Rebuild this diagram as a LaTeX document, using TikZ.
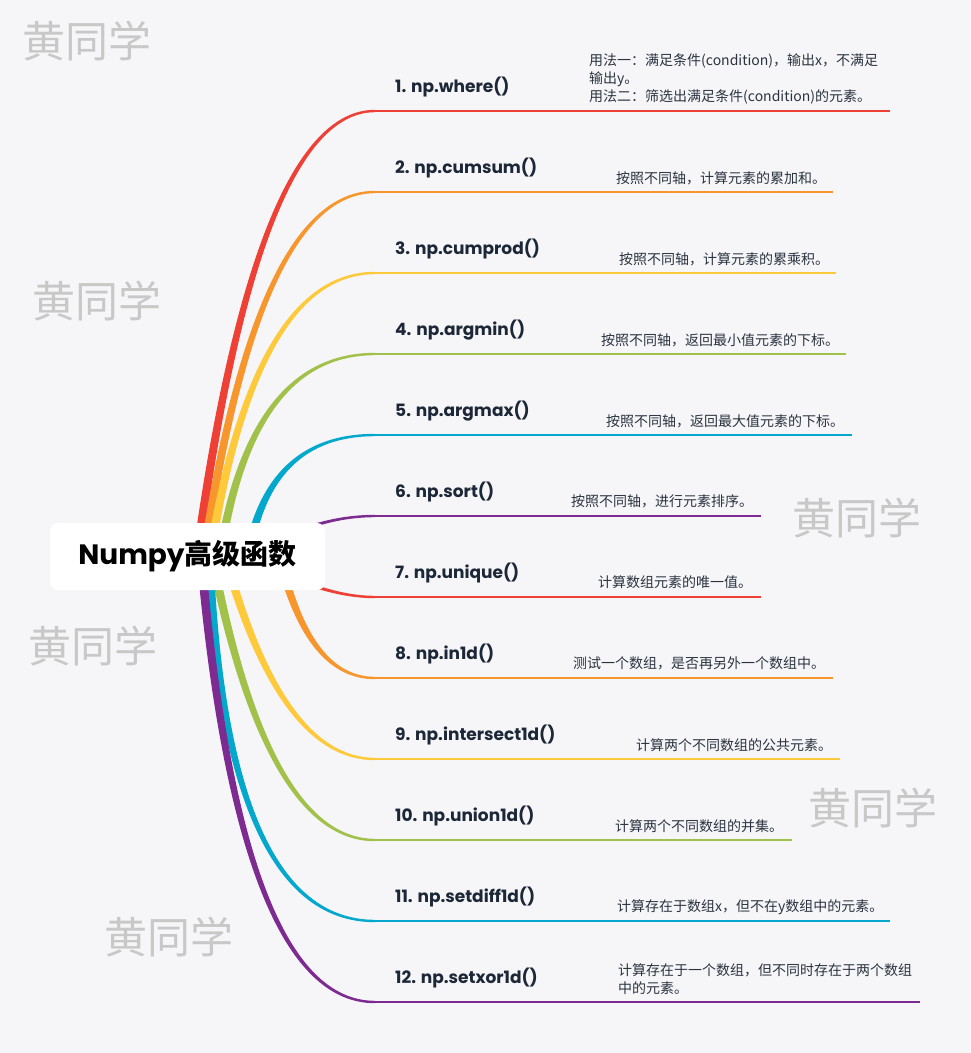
\documentclass[tikz,border=0pt]{standalone}
\usepackage{fontspec}
\setmainfont{Poppins}
\newfontfamily\popfont{Poppins}
\newfontfamily\cjkfont{Noto Sans CJK SC}
\definecolor{bgc}{HTML}{F6F6F8}
\definecolor{cred}{HTML}{EE4035}
\definecolor{corange}{HTML}{F7962D}
\definecolor{cyellow}{HTML}{FFC93C}
\definecolor{cgreen}{HTML}{A2C14A}
\definecolor{cblue}{HTML}{04A8CD}
\definecolor{cpurple}{HTML}{7D2A91}
\definecolor{lbltxt}{HTML}{1C2738}
\definecolor{desctxt}{HTML}{2B3340}
\definecolor{wmc}{HTML}{C8C8C8}
\newcommand\mmbranch[6]{%
  % #1 colour, #2 start x, #3 control x, #4 end y, #5 side sign, #6 underline end x
  \pgfmathsetmacro\mmyL{#4-#5*1.2}%
  \pgfmathsetmacro\mmyR{#4+#5*1.2}%
  \pgfmathsetmacro\mmxL{#2-4.5}%
  \pgfmathsetmacro\mmxR{#2+4.5}%
  \pgfmathsetmacro\mmqL{#3-2.5}%
  \pgfmathsetmacro\mmqR{#3+2.5}%
  \fill[#1] (\mmxL,556) .. controls ({\mmxL+2/3*(\mmqL-\mmxL)},{556+2/3*(\mmyL-556)}) and ({375+2/3*(\mmqL-375)},\mmyL) .. (375,\mmyL)
    -- (375,\mmyR) .. controls ({375+2/3*(\mmqR-375)},\mmyR) and ({\mmxR+2/3*(\mmqR-\mmxR)},{556+2/3*(\mmyR-556)}) .. (\mmxR,556) -- cycle;
}
\tikzset{
  uline/.style={line width=2pt},
  lbl/.style={anchor=west, inner sep=0pt, font=\popfont\bfseries\fontsize{17}{20}\selectfont, text=lbltxt},
  desc/.style={anchor=west, inner sep=0pt, align=left, font=\cjkfont\fontsize{14}{18}\selectfont, text=desctxt},
  wmark/.style={anchor=west, inner sep=0pt, font=\cjkfont\fontsize{43}{50}\selectfont, text=wmc},
  rootbox/.style={fill=white, rounded corners=8pt, minimum width=275pt, minimum height=67pt, inner sep=0pt}
}
\begin{document}
\begin{tikzpicture}[x=1pt,y=-1pt]
\useasboundingbox (0,0) rectangle (970,1053);
\fill[bgc] (0,0) rectangle (970,1053);
% branches
\mmbranch{cred}{197}{257}{111}{1}{890}
\mmbranch{corange}{204}{257.5}{192}{1}{833}
\mmbranch{cyellow}{210}{255}{273}{1}{836}
\mmbranch{cgreen}{220}{251}{354}{1}{846}
\mmbranch{cblue}{248}{268}{435}{1}{852}
\mmbranch{cpurple}{250}{312}{516}{1}{761}
\mmbranch{cred}{250}{320}{597}{-1}{761}
\mmbranch{corange}{279.5}{307.7}{678}{-1}{833}
\mmbranch{cyellow}{225}{281}{759}{-1}{840}
\mmbranch{cgreen}{212}{267}{840}{-1}{792}
\mmbranch{cblue}{209}{226}{921}{-1}{890}
\mmbranch{cpurple}{201}{239}{1002}{-1}{920}
% underline coordinates
\coordinate (s1) at (375,111);  \coordinate (e1) at (890,111);
\coordinate (s2) at (375,192);  \coordinate (e2) at (833,192);
\coordinate (s3) at (375,273);  \coordinate (e3) at (836,273);
\coordinate (s4) at (375,354);  \coordinate (e4) at (846,354);
\coordinate (s5) at (375,435);  \coordinate (e5) at (852,435);
\coordinate (s6) at (375,516);  \coordinate (e6) at (761,516);
\coordinate (s7) at (375,597);  \coordinate (e7) at (761,597);
\coordinate (s8) at (375,678);  \coordinate (e8) at (833,678);
\coordinate (s9) at (375,759);  \coordinate (e9) at (840,759);
\coordinate (s10) at (375,840); \coordinate (e10) at (792,840);
\coordinate (s11) at (375,921); \coordinate (e11) at (890,921);
\coordinate (s12) at (375,1002);\coordinate (e12) at (920,1002);
\draw[uline,cred] (s1) -- (e1);
\draw[uline,corange] (s2) -- (e2);
\draw[uline,cyellow] (s3) -- (e3);
\draw[uline,cgreen] (s4) -- (e4);
\draw[uline,cblue] (s5) -- (e5);
\draw[uline,cpurple] (s6) -- (e6);
\draw[uline,cred] (s7) -- (e7);
\draw[uline,corange] (s8) -- (e8);
\draw[uline,cyellow] (s9) -- (e9);
\draw[uline,cgreen] (s10) -- (e10);
\draw[uline,cblue] (s11) -- (e11);
\draw[uline,cpurple] (s12) -- (e12);
% central topic
\node[rootbox] (root) at (187.5,556.5) {\fontsize{28}{32}\selectfont{\popfont\bfseries Numpy}{\cjkfont\bfseries 高级函数}};
% labels
\node[lbl] (l1) at (395,87) {1. np.where()};
\node[lbl] (l2) at (395,168) {2. np.cumsum()};
\node[lbl] (l3) at (395,249) {3. np.cumprod()};
\node[lbl] (l4) at (395,330) {4. np.argmin()};
\node[lbl] (l5) at (395,411) {5. np.argmax()};
\node[lbl] (l6) at (395,492) {6. np.sort()};
\node[lbl] (l7) at (395,573) {7. np.unique()};
\node[lbl] (l8) at (395,654) {8. np.in1d()};
\node[lbl] (l9) at (395,735) {9. np.intersect1d()};
\node[lbl] (l10) at (395,816) {10. np.union1d()};
\node[lbl] (l11) at (395,897) {11. np.setdiff1d()};
\node[lbl] (l12) at (395,978) {12. np.setxor1d()};
% descriptions
\node[desc] (d1) at (589,79) {用法一：满足条件(condition)，输出x，不满足\\输出y。\\用法二：筛选出满足条件(condition)的元素。};
\node[desc] (d2) at (616,178) {按照不同轴，计算元素的累加和。};
\node[desc] (d3) at (619,259) {按照不同轴，计算元素的累乘积。};
\node[desc] (d4) at (601,340) {按照不同轴，返回最小值元素的下标。};
\node[desc] (d5) at (606,421) {按照不同轴，返回最大值元素的下标。};
\node[desc] (d6) at (571,501) {按照不同轴，进行元素排序。};
\node[desc] (d7) at (598,582) {计算数组元素的唯一值。};
\node[desc] (d8) at (573,663) {测试一个数组，是否再另外一个数组中。};
\node[desc] (d9) at (636,745) {计算两个不同数组的公共元素。};
\node[desc] (d10) at (615,826) {计算两个不同数组的并集。};
\node[desc] (d11) at (617,907) {计算存在于数组x，但不在y数组中的元素。};
\node[desc] (d12) at (618,979) {计算存在于一个数组，但不同时存在于两个数组\\中的元素。};
% watermarks
\node[wmark] (w1) at (22,41) {黄同学};
\node[wmark] (w2) at (32,301) {黄同学};
\node[wmark] (w3) at (792,518) {黄同学};
\node[wmark] (w4) at (28,646) {黄同学};
\node[wmark] (w5) at (808,808) {黄同学};
\node[wmark] (w6) at (104,937) {黄同学};
\end{tikzpicture}
\end{document}
